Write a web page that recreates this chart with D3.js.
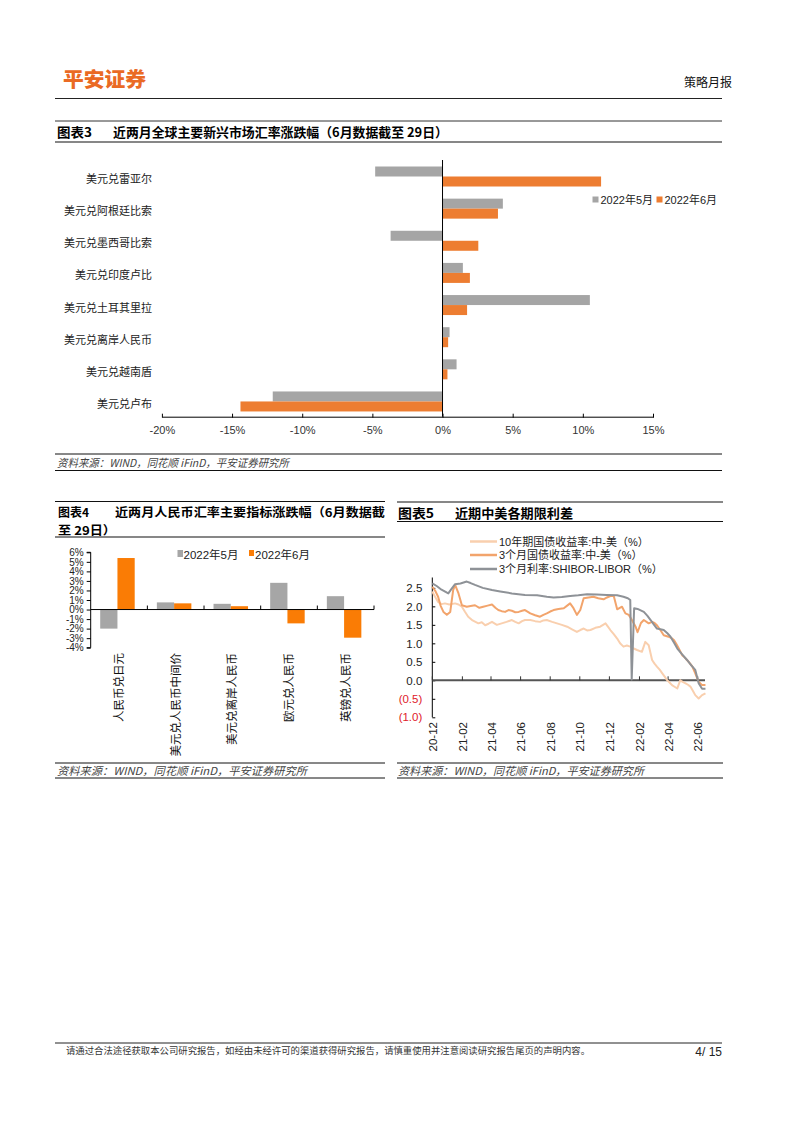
<!DOCTYPE html>
<html><head><meta charset="utf-8">
<script src="https://cdn.jsdelivr.net/npm/d3@7"></script>
<style>body{margin:0;background:#fff} svg{display:block}</style>
</head><body><svg id="c" width="802" height="1133"></svg>
<script>
const FONT = "'Liberation Sans', Arial, 'Noto Sans CJK SC', sans-serif";
const CJK = "'Noto Sans CJK SC', 'Liberation Sans', sans-serif";

// ---------- Chart 3 data ----------
const emCategories = ["美元兑雷亚尔","美元兑阿根廷比索","美元兑墨西哥比索","美元兑印度卢比","美元兑土耳其里拉","美元兑离岸人民币","美元兑越南盾","美元兑卢布"];
const emMay = [-4.8, 4.3, -3.7, 1.45, 10.5, 0.5, 1.0, -12.1];
const emJun = [11.3, 3.95, 2.55, 1.95, 1.75, 0.4, 0.35, -14.4];
const emTicks = [-20, -15, -10, -5, 0, 5, 10, 15];
const seriesNames = ["2022年5月", "2022年6月"];

// ---------- Chart 4 data ----------
const rmbCategories = ["人民币兑日元","美元兑人民币中间价","美元兑离岸人民币","欧元兑人民币","英镑兑人民币"];
const rmbMay = [-2.0, 0.75, 0.6, 2.8, 1.4];
const rmbJun = [5.4, 0.65, 0.35, -1.45, -2.95];
const rmbTicks = [-4, -3, -2, -1, 0, 1, 2, 3, 4, 5, 6];

// ---------- Chart 5 data ----------
const spreadNames = ["10年期国债收益率:中-美（%）", "3个月国债收益率:中-美（%）", "3个月利率:SHIBOR-LIBOR（%）"];
const spreadTickLabels = ["20-12","21-02","21-04","21-06","21-08","21-10","21-12","22-02","22-04","22-06"];
const spreadYTicks = [-1.0, -0.5, 0, 0.5, 1.0, 1.5, 2.0, 2.5];
const bond10y = [
 ["2020-12-01",2.40],["2020-12-07",2.25],["2020-12-13",2.12],["2020-12-20",2.06],["2020-12-27",2.08],["2021-01-05",2.05],["2021-01-17",2.08],
 ["2021-01-24",2.05],["2021-01-31",1.99],["2021-02-06",1.86],["2021-02-13",1.72],["2021-02-22",1.62],["2021-03-06",1.54],["2021-03-13",1.57],["2021-03-20",1.49],
 ["2021-03-27",1.53],["2021-04-03",1.58],["2021-04-13",1.50],["2021-04-23",1.54],["2021-05-03",1.58],["2021-05-14",1.63],["2021-05-21",1.58],["2021-05-28",1.54],
 ["2021-06-04",1.60],["2021-06-10",1.63],["2021-06-21",1.63],["2021-07-01",1.60],["2021-07-11",1.58],["2021-07-18",1.62],["2021-07-25",1.63],["2021-08-05",1.58],
 ["2021-08-15",1.54],["2021-08-25",1.50],["2021-09-05",1.45],["2021-09-15",1.38],["2021-09-25",1.31],["2021-10-02",1.36],["2021-10-09",1.40],["2021-10-16",1.35],
 ["2021-10-23",1.36],["2021-11-02",1.42],["2021-11-12",1.45],["2021-11-18",1.50],["2021-11-23",1.54],["2021-11-28",1.45],["2021-12-03",1.36],["2021-12-10",1.25],
 ["2021-12-17",1.13],["2021-12-23",1.00],["2021-12-30",0.91],["2022-01-06",0.94],["2022-01-13",0.91],["2022-01-20",0.86],["2022-01-27",0.82],["2022-02-06",0.77],
 ["2022-02-13",1.04],["2022-02-20",0.95],["2022-02-27",0.55],["2022-03-04",0.45],["2022-03-09",0.37],["2022-03-15",0.28],["2022-03-20",0.19],["2022-03-25",0.10],
 ["2022-03-30",0.00],["2022-04-04",-0.06],["2022-04-09",-0.13],["2022-04-15",-0.18],["2022-04-20",-0.22],["2022-04-26",0.00],["2022-05-01",-0.04],["2022-05-07",-0.08],
 ["2022-05-12",-0.12],["2022-05-17",-0.17],["2022-05-22",-0.28],["2022-05-27",-0.40],["2022-06-03",-0.49],["2022-06-10",-0.40],["2022-06-17",-0.35]
];
const bond3m = [
 ["2020-12-01",2.53],["2020-12-07",2.42],["2020-12-13",2.26],["2020-12-18",2.02],["2020-12-24",1.85],["2020-12-31",1.77],["2021-01-07",1.85],["2021-01-10",2.15],
 ["2021-01-13",2.44],["2021-01-17",2.58],["2021-01-24",2.35],["2021-01-31",2.03],["2021-02-10",1.99],["2021-02-18",2.01],["2021-02-27",2.03],["2021-03-08",1.96],
 ["2021-03-16",1.99],["2021-03-25",2.02],["2021-04-03",2.05],["2021-04-10",1.96],["2021-04-16",1.90],["2021-04-23",1.87],["2021-04-30",1.85],["2021-05-07",1.90],
 ["2021-05-14",1.88],["2021-05-21",1.84],["2021-05-28",1.85],["2021-06-04",1.88],["2021-06-10",1.90],["2021-06-16",1.85],["2021-06-21",1.81],["2021-07-01",1.76],
 ["2021-07-11",1.72],["2021-07-18",1.77],["2021-07-25",1.81],["2021-08-01",1.86],["2021-08-08",1.90],["2021-08-18",1.93],["2021-08-29",1.95],["2021-09-05",2.02],
 ["2021-09-11",2.08],["2021-09-18",1.95],["2021-09-25",1.77],["2021-10-02",1.90],["2021-10-09",2.22],["2021-10-19",2.24],["2021-10-29",2.26],["2021-11-08",2.22],
 ["2021-11-19",2.19],["2021-11-26",2.24],["2021-12-03",2.28],["2021-12-10",2.28],["2021-12-17",1.92],["2021-12-27",1.99],["2022-01-03",1.81],["2022-01-10",1.77],
 ["2022-01-17",1.62],["2022-01-24",1.45],["2022-01-28",1.30],["2022-02-04",1.55],["2022-02-10",1.63],["2022-02-20",1.54],["2022-02-27",1.58],["2022-03-04",1.55],
 ["2022-03-09",1.49],["2022-03-16",1.36],["2022-03-23",1.22],["2022-04-02",1.18],["2022-04-08",1.14],["2022-04-13",1.09],["2022-04-18",0.98],["2022-04-23",0.86],
 ["2022-04-30",0.68],["2022-05-05",0.62],["2022-05-10",0.55],["2022-05-16",0.46],["2022-05-21",0.37],["2022-05-27",0.19],["2022-06-03",-0.04],["2022-06-10",-0.13],
 ["2022-06-17",-0.13]
];
const shiborLibor = [
 ["2020-12-01",2.62],["2020-12-10",2.55],["2020-12-20",2.45],["2021-01-03",2.35],["2021-01-10",2.48],["2021-01-17",2.60],["2021-01-28",2.62],["2021-02-10",2.67],
 ["2021-02-18",2.63],["2021-02-27",2.58],["2021-03-15",2.50],["2021-04-03",2.44],["2021-04-20",2.40],["2021-05-14",2.35],["2021-06-10",2.31],["2021-07-05",2.30],
 ["2021-07-25",2.26],["2021-08-08",2.24],["2021-08-25",2.25],["2021-09-11",2.28],["2021-09-28",2.30],["2021-10-16",2.33],["2021-11-05",2.32],["2021-11-25",2.31],
 ["2021-12-17",2.30],["2021-12-30",2.26],["2022-01-08",2.22],["2022-01-13",2.17],["2022-01-16",0.02],["2022-01-21",1.95],["2022-01-28",1.93],["2022-02-10",1.85],
 ["2022-02-17",1.75],["2022-02-24",1.63],["2022-03-02",1.52],["2022-03-09",1.40],["2022-03-16",1.38],["2022-03-23",1.36],["2022-03-30",1.28],["2022-04-06",1.18],
 ["2022-04-13",1.02],["2022-04-20",0.86],["2022-04-30",0.70],["2022-05-10",0.55],["2022-05-18",0.42],["2022-05-27",0.28],["2022-06-03",-0.08],["2022-06-10",-0.23],
 ["2022-06-17",-0.23]
];

const svg = d3.select("#c");
svg.append("rect").attr("width", 802).attr("height", 1133).attr("fill", "#fff");

function hline(x1, x2, y, w, c) {
  svg.append("line").attr("x1", x1).attr("x2", x2).attr("y1", y).attr("y2", y)
    .attr("stroke", c || "#000").attr("stroke-width", w || 1);
}
function text(x, y, s, opts) {
  opts = opts || {};
  const t = svg.append("text").attr("x", x).attr("y", y).text(s)
    .attr("font-family", opts.family || CJK)
    .attr("font-size", opts.size || 11)
    .attr("fill", opts.fill || "#000")
    .attr("font-weight", opts.weight || "normal")
    .attr("text-anchor", opts.anchor || "start")
    .attr("dominant-baseline", "central");
  if (opts.italic) t.attr("font-style", "italic");
  if (opts.len) t.attr("textLength", opts.len).attr("lengthAdjust", "spacingAndGlyphs");
  return t;
}

// ---------- Header ----------
text(63, 78, "平安证券", {size: 20, weight: 900, fill: "#EA6A24", len: 83});
text(732, 81, "策略月报", {size: 12, anchor: "end", fill: "#111"});
hline(55, 722, 98.5, 1.2, "#222");

// ---------- Chart 3 ----------
hline(55, 722, 121, 1, "#333");
hline(55, 722, 142, 1.2, "#111");
text(57, 131, "图表3", {size: 13, weight: "bold", len: 35});
text(113, 131, "近两月全球主要新兴市场汇率涨跌幅（6月数据截至 29日）", {size: 13, weight: "bold", len: 335});

const x3 = d3.scaleLinear().domain([-20, 15]).range([161.9, 653]);
const y3 = d3.scaleBand().domain(emCategories).range([162, 419.1]);
const y3s = d3.scaleBand().domain(seriesNames).range([4.5, 24.5]);
const c3 = {"2022年5月": "#A5A5A5", "2022年6月": "#ED7D31"};
const emRows = emCategories.map((c, i) => ({c, vals: [{s: seriesNames[0], v: emMay[i]}, {s: seriesNames[1], v: emJun[i]}]}));

const g3 = svg.append("g");
g3.selectAll("g.row").data(emRows).join("g").attr("class", "row")
  .selectAll("rect").data(d => d.vals.map(v => ({...v, c: d.c}))).join("rect")
  .attr("x", d => Math.min(x3(0), x3(d.v)))
  .attr("width", d => Math.abs(x3(d.v) - x3(0)))
  .attr("y", d => y3(d.c) + y3s(d.s))
  .attr("height", y3s.bandwidth())
  .attr("fill", d => c3[d.s]);

g3.selectAll("text.cat").data(emCategories).join("text").attr("class", "cat")
  .attr("x", 152).attr("y", d => y3(d) + y3.bandwidth() / 2)
  .attr("text-anchor", "end").attr("dominant-baseline", "central")
  .attr("font-family", CJK).attr("font-size", 11).attr("fill", "#222").text(d => d);

// zero line
g3.append("line").attr("x1", x3(0)).attr("x2", x3(0)).attr("y1", 160).attr("y2", 416.7)
  .attr("stroke", "#000").attr("stroke-width", 1);
// x axis
const ax3 = d3.axisBottom(x3).tickValues(emTicks).tickFormat(d => d + "%").tickSize(0).tickPadding(10);
const ax3g = svg.append("g").attr("transform", "translate(0,416.7)").call(ax3);
ax3g.select(".domain").attr("stroke", "#000");
ax3g.selectAll("text").attr("font-family", FONT).attr("font-size", 11).attr("fill", "#333");
ax3g.selectAll(".tick").append("line").attr("y1", -3).attr("y2", 1).attr("stroke", "#000");

// legend 3
const lg3 = svg.append("g");
seriesNames.forEach((s, i) => {
  const lx = [592.5, 656.5][i];
  lg3.append("rect").attr("x", lx).attr("y", 196.5).attr("width", 6).attr("height", 6).attr("fill", c3[s]);
  lg3.append("text").attr("x", lx + 8).attr("y", 199.5).attr("dominant-baseline", "central")
    .attr("font-family", FONT).attr("font-size", 11).attr("fill", "#222").text(s);
});

hline(55, 722, 454, 1, "#111");
hline(55, 722, 470.5, 1, "#111");
text(57, 462, "资料来源：WIND，同花顺 iFinD，平安证券研究所", {size: 11, italic: true, fill: "#444", len: 232});

// ---------- Chart 4 ----------
hline(55, 385, 501.5, 1.2, "#111");
hline(55, 385, 537, 1.2, "#111");
text(58, 511, "图表4", {size: 12, weight: "bold", len: 31});
text(115, 511, "近两月人民币汇率主要指标涨跌幅（6月数据截", {size: 12, weight: "bold", len: 270});
text(58, 529, "至 29日）", {size: 12, weight: "bold", len: 58});

const x4 = d3.scaleBand().domain(rmbCategories).range([90.7, 374]);
const x4s = d3.scaleBand().domain(seriesNames).range([9.5, 44]);
const y4 = d3.scaleLinear().domain([-4, 6]).range([647.7, 552.3]);
const c4 = {"2022年5月": "#A6A6A6", "2022年6月": "#FA7C05"};
const rmbRows = rmbCategories.map((c, i) => ({c, vals: [{s: seriesNames[0], v: rmbMay[i]}, {s: seriesNames[1], v: rmbJun[i]}]}));

const g4 = svg.append("g");
g4.selectAll("g.row").data(rmbRows).join("g").attr("class", "row")
  .selectAll("rect").data(d => d.vals.map(v => ({...v, c: d.c}))).join("rect")
  .attr("x", d => x4(d.c) + x4s(d.s))
  .attr("width", x4s.bandwidth())
  .attr("y", d => Math.min(y4(0), y4(d.v)))
  .attr("height", d => Math.abs(y4(d.v) - y4(0)))
  .attr("fill", d => c4[d.s]);

const ay4 = d3.axisLeft(y4).tickValues(rmbTicks).tickFormat(d => d + "%").tickSize(4).tickPadding(3);
const ay4g = svg.append("g").attr("transform", "translate(90.7,0)").call(ay4);
ay4g.select(".domain").attr("stroke", "#000").attr("d", `M-4,${y4(6)}H0V${y4(-4)}H-4`);
ay4g.selectAll("line").attr("stroke", "#000");
ay4g.selectAll("text").attr("font-family", FONT).attr("font-size", 10).attr("fill", "#222");

// zero line with category ticks
g4.append("line").attr("x1", 90.7).attr("x2", 374).attr("y1", y4(0)).attr("y2", y4(0)).attr("stroke", "#000");
const bounds4 = rmbCategories.map(c => x4(c) + x4.step());
g4.selectAll("line.ct").data(bounds4).join("line").attr("class", "ct")
  .attr("x1", d => d).attr("x2", d => d).attr("y1", y4(0) - 4).attr("y2", y4(0)).attr("stroke", "#000");
g4.selectAll("text.cat").data(rmbCategories).join("text").attr("class", "cat")
  .attr("transform", d => `translate(${x4(d) + x4.step() / 2 - 1},653) rotate(-90)`)
  .attr("text-anchor", "end").attr("dominant-baseline", "central")
  .attr("font-family", CJK).attr("font-size", 11.5).attr("fill", "#111").text(d => d);

// legend 4
seriesNames.forEach((s, i) => {
  const lx = [177.5, 249][i];
  svg.append("rect").attr("x", lx).attr("y", 550).attr("width", [5.5, 5][i]).attr("height", [7, 6][i]).attr("fill", c4[s]);
  svg.append("text").attr("x", lx + 6).attr("y", 554.5).attr("dominant-baseline", "central")
    .attr("font-family", FONT).attr("font-size", 11.5).attr("fill", "#222").text(s);
});

hline(55, 385, 763, 1, "#111");
hline(55, 385, 778, 1, "#111");
text(57, 770, "资料来源：WIND，同花顺 iFinD，平安证券研究所", {size: 11, italic: true, fill: "#444", len: 250});

// ---------- Chart 5 ----------
hline(397, 723, 502, 1.2, "#111");
hline(397, 723, 521.5, 1.2, "#111");
text(398, 512.5, "图表5", {size: 13, weight: "bold", len: 36});
text(455, 512.5, "近期中美各期限利差", {size: 13, weight: "bold", len: 118});

const parse = d3.timeParse("%Y-%m-%d");
const parseTick = d3.timeParse("%y-%m");
const x5 = d3.scaleTime().domain([new Date(2020, 11, 1), new Date(2022, 5, 1)]).range([432.3, 697.7]);
const y5 = d3.scaleLinear().domain([-1, 2.78]).range([717.3, 577.5]);
const c5 = ["#F9CFAE", "#F2A46C", "#8E9297"];
const series5 = [bond10y, bond3m, shiborLibor];

// y axis
const ay5 = d3.axisLeft(y5).tickValues(spreadYTicks).tickSize(-3).tickPadding(10)
  .tickFormat(d => d < 0 ? "(" + d3.format(".1f")(-d) + ")" : d3.format(".1f")(d));
const ay5g = svg.append("g").attr("transform", "translate(432.3,0)").call(ay5);
ay5g.select(".domain").attr("stroke", "#000").attr("d", `M0,${y5(2.78)}V${y5(-1)}`);
ay5g.selectAll("line").attr("stroke", "#000");
ay5g.selectAll("text").attr("font-family", FONT).attr("font-size", 11.5)
  .attr("fill", d => d < 0 ? "#E0202A" : "#222");

// x axis at zero
const tickDates = spreadTickLabels.map(parseTick);
svg.append("line").attr("x1", 432.3).attr("x2", 705).attr("y1", y5(0)).attr("y2", y5(0))
  .attr("stroke", "#555").attr("stroke-width", 2);
svg.selectAll("line.t5").data(tickDates).join("line").attr("class", "t5")
  .attr("x1", d => x5(d)).attr("x2", d => x5(d)).attr("y1", y5(0) - 4).attr("y2", y5(0))
  .attr("stroke", "#333");
svg.selectAll("text.t5").data(spreadTickLabels).join("text").attr("class", "t5")
  .attr("transform", d => `translate(${x5(parseTick(d)) + 0.5},722) rotate(-90)`)
  .attr("text-anchor", "end").attr("dominant-baseline", "central")
  .attr("font-family", FONT).attr("font-size", 11.5).attr("fill", "#222").text(d => d);

const line5 = d3.line().x(d => x5(parse(d[0]))).y(d => y5(d[1]));
series5.forEach((s, i) => {
  svg.append("path").datum(s).attr("d", line5).attr("fill", "none")
    .attr("stroke", c5[i]).attr("stroke-width", 2).attr("stroke-linejoin", "round");
});

// legend 5
const ly5 = [541.5, 555, 569];
spreadNames.forEach((s, i) => {
  svg.append("line").attr("x1", 470).attr("x2", 497).attr("y1", ly5[i]).attr("y2", ly5[i])
    .attr("stroke", c5[i]).attr("stroke-width", 2.5);
  svg.append("text").attr("x", 499).attr("y", ly5[i]).attr("dominant-baseline", "central")
    .attr("font-family", FONT).attr("font-size", 11).attr("fill", "#222").text(s);
});

hline(397, 723, 763, 1, "#111");
hline(397, 723, 778, 1, "#111");
text(398, 770, "资料来源：WIND，同花顺 iFinD，平安证券研究所", {size: 11, italic: true, fill: "#444", len: 246});

// ---------- Footer ----------
hline(55, 722, 1043, 1, "#222");
text(66, 1050, "请通过合法途径获取本公司研究报告，如经由未经许可的渠道获得研究报告，请慎重使用并注意阅读研究报告尾页的声明内容。", {size: 9, fill: "#333", len: 524});
text(722, 1052, "4/ 15", {size: 12, anchor: "end", family: FONT, fill: "#222"});
</script></body></html>
